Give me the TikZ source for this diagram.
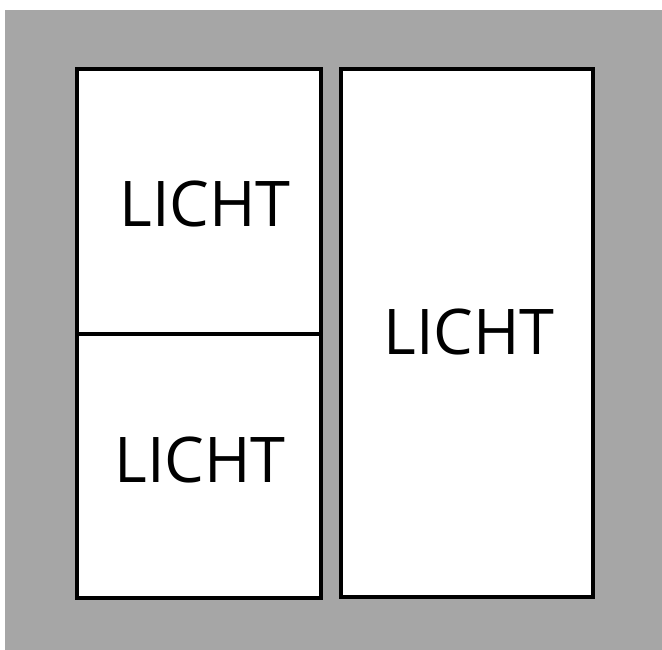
\documentclass[tikz,border=0pt]{standalone}
\usepackage{fontspec}
\setmainfont{Open Sans}
\definecolor{bggray}{RGB}{166,166,166}
\begin{document}
\begin{tikzpicture}[x=1pt,y=-1pt,
  panel/.style={draw=black,fill=white,line width=4pt},
  label/.style={inner sep=0pt,font=\fontsize{63}{70}\selectfont}]
\useasboundingbox (0,0) rectangle (662,650);
\fill[bggray] (5,10) rectangle (662,650);
\draw[panel] (77,69) rectangle (321,598);
\draw[line width=4pt] (77,333.7) -- (321,333.7);
\draw[panel] (341,69) rectangle (593,597);
\node[label] (t1) at (205,204) {LICHT};
\node[label] (t2) at (200,460) {LICHT};
\node[label] (t3) at (469,332) {LICHT};
\end{tikzpicture}
\end{document}
